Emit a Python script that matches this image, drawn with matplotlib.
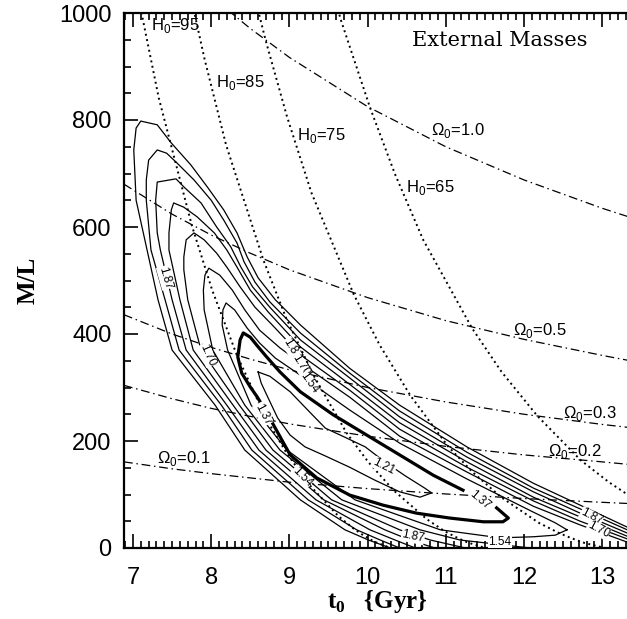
import matplotlib
matplotlib.use("Agg")
import matplotlib.pyplot as plt
from matplotlib.ticker import MultipleLocator

# ---------------- data (t0 [Gyr], M/L) ----------------
# Omega_0 = const curves (dash-dot)
om_t = [6.885, 7.5, 8.0, 8.5, 9.0, 10.0, 11.0, 12.0, 13.0, 13.36]
om_10 = [1198, 1100, 1031, 971, 917, 825, 750, 688, 635, 618]
om_05 = [680, 624, 585, 551, 520, 468, 425, 390, 360, 350]
om_03 = [436, 400, 375, 353, 333, 300, 273, 250, 231, 225]
om_02 = [304, 279, 261, 246, 232, 209, 190, 174, 161, 156]
om_01 = [161, 148, 139, 131, 123, 111, 101, 92.5, 85.4, 83]

# H0 = const curves (dotted)
h95_t = [7.08, 7.33, 7.756, 8.015, 8.327, 8.708, 8.954, 9.243, 9.624, 9.823, 9.943, 10.084, 10.293]
h95_ml = [1021, 841, 601, 481, 361, 240, 180, 120, 60, 36, 24, 12, 0]
h85_t = [7.673, 7.915, 8.191, 8.668, 8.958, 9.307, 9.732, 10.007, 10.331, 10.756, 10.978, 11.113, 11.271, 11.504]
h85_ml = [1075, 914, 753, 538, 430, 323, 215, 161, 108, 54, 32, 21.5, 10.8, 0]
h75_t = [8.370, 8.696, 8.970, 9.282, 9.823, 10.152, 10.547, 11.029, 11.341, 11.707, 12.190, 12.441, 12.594, 12.772, 13.037]
h75_ml = [1139, 949, 806, 664, 474, 380, 285, 190, 142, 95, 47, 28.5, 19, 9.5, 0]
h65_t = [9.191, 9.658, 10.034, 10.350, 10.711, 11.335, 11.714, 12.170, 12.726, 13.086, 13.509]
h65_ml = [1233, 987, 822, 699, 576, 411, 329, 247, 164, 123, 82]

# contour paths of the likelihood surface (lower branch -> tip -> upper branch)
c253_t = [10.29, 10.01, 9.71, 9.14, 8.43, 8.05, 7.50, 7.32, 7.18, 7.04, 7.01, 7.04, 7.10,
          7.31, 7.49, 7.74, 7.95, 8.16, 8.33, 8.46, 8.60, 8.82, 9.14, 9.77, 10.41, 11.27, 12.12, 12.72, 13.32]
c253_ml = [0, 15, 34, 90, 183, 267, 370, 464, 557, 650, 744, 785, 798,
           791, 757, 716, 675, 632, 589, 544, 505, 464, 417, 336, 267, 189, 121, 80, 39]
c236_t = [10.41, 10.16, 9.86, 9.24, 8.52, 8.13, 7.59, 7.41, 7.23, 7.17, 7.17, 7.20, 7.31,
          7.43, 7.56, 7.78, 8.00, 8.16, 8.33, 8.42, 8.56, 8.75, 9.14, 9.77, 10.41, 11.27, 12.12, 12.72, 13.32]
c236_ml = [0, 15, 34, 90, 183, 267, 370, 464, 557, 650, 688, 725, 744,
           738, 720, 688, 650, 613, 570, 535, 497, 460, 402, 327, 256, 179, 112, 73, 34]
c220_t = [10.61, 10.35, 10.03, 9.34, 8.61, 8.20, 7.68, 7.50, 7.35, 7.31, 7.29, 7.31, 7.55,
          7.65, 7.87, 8.07, 8.25, 8.38, 8.53, 8.75, 9.14, 9.77, 10.41, 11.27, 12.12, 12.72, 13.32]
c220_ml = [0, 15, 34, 90, 183, 267, 370, 464, 557, 589, 650, 684, 690,
           675, 645, 600, 563, 525, 488, 450, 389, 318, 245, 170, 105, 65, 28]
c203_t = [10.86, 10.54, 10.22, 9.44, 8.70, 8.28, 7.77, 7.60, 7.46, 7.46, 7.49, 7.52,
          7.65, 7.82, 8.04, 8.20, 8.33, 8.50, 8.73, 9.14, 9.77, 10.41, 11.27, 12.12, 12.72, 13.32]
c203_ml = [0, 15, 34, 90, 183, 267, 370, 464, 557, 589, 632, 645,
           637, 619, 589, 557, 525, 482, 441, 376, 306, 234, 161, 95, 58, 22]
c187_t = [11.25, 10.80, 10.41, 9.54, 8.79, 8.36, 7.87, 7.70, 7.65, 7.65, 7.68, 7.78,
          7.91, 8.07, 8.20, 8.37, 8.56, 8.78, 9.14, 9.77, 10.41, 11.27, 12.12, 12.72, 13.32]
c187_ml = [0, 15, 34, 90, 183, 267, 370, 464, 520, 544, 576, 589,
           576, 551, 525, 488, 450, 417, 361, 295, 222, 151, 88, 50, 17]
c170_t = [12.08, 11.18, 10.67, 9.67, 8.88, 8.43, 8.02, 7.91, 7.90, 7.92, 7.97,
          8.11, 8.27, 8.43, 8.62, 8.88, 9.14, 9.77, 10.41, 11.27, 12.12, 12.72, 13.32]
c170_ml = [0, 15, 34, 90, 183, 267, 370, 445, 482, 510, 523,
           510, 482, 445, 407, 374, 346, 282, 209, 142, 78, 43, 11]
c154_t = [12.55, 12.40, 12.12, 11.69, 10.93, 9.84, 8.97, 8.51, 8.21, 8.14, 8.15, 8.19,
          8.30, 8.46, 8.62, 8.82, 9.14, 9.77, 10.41, 11.27, 12.12, 12.40, 12.55]
c154_ml = [34, 24, 21, 19, 34, 90, 183, 267, 370, 417, 445, 458,
           445, 411, 383, 355, 323, 258, 196, 129, 67, 47, 34]
c137_t = [11.65, 11.80, 11.73, 11.48, 11.05, 10.63, 10.20, 9.77, 9.35, 9.01, 8.82, 8.69,
          8.59, 8.50, 8.39, 8.34, 8.37, 8.41, 8.50, 8.60, 8.71, 8.88, 9.14, 9.56, 9.99,
          10.41, 10.84, 11.22]
c137_ml = [75, 56, 49, 49, 56, 65, 80, 99, 131, 174, 224, 258,
           282, 301, 327, 357, 389, 402, 394, 376, 357, 329, 292, 249, 211,
           174, 136, 108]
c121_t = [8.60, 8.75, 9.01, 9.26, 9.46, 9.71, 9.97, 10.22, 10.48, 10.73, 10.82, 10.67,
          10.41, 10.09, 9.77, 9.46, 9.20, 9.01, 8.85, 8.73, 8.64, 8.60]
c121_ml = [329, 321, 292, 254, 224, 207, 189, 161, 135, 112, 103, 95,
           105, 127, 151, 172, 189, 211, 243, 280, 308, 329]

# contour labels: (text, t0, M/L, rotation)
clabels = [("1.87", 7.41, 505, -74), ("1.70", 7.95, 361, -66), ("1.37", 8.66, 250, -62),
           ("1.54", 9.16, 133, -45), ("1.87", 9.03, 372, -58), ("1.70", 9.14, 342, -58),
           ("1.54", 9.25, 308, -55), ("1.21", 10.21, 152, -27), ("1.37", 11.44, 90, -40),
           ("1.87", 10.58, 21, -12), ("1.54", 11.69, 12, 0), ("1.87", 12.86, 58, -28),
           ("1.70", 12.95, 34, -28)]

# ---------------- figure ----------------
W, H = 627, 619
fig = plt.figure(figsize=(W / 100, H / 100), dpi=100)
ax = fig.add_axes([124 / W, (H - 548) / H, 506 / W, 535 / H])
xmin, xmax = 6.885, 6.885 + 506 / 78.2
ax.set_xlim(xmin, xmax)
ax.set_ylim(0, 1000)

k = "black"
dd = (0, (7, 3, 1.2, 3))
for ml in (om_10, om_05, om_03, om_02, om_01):
    ax.plot(om_t, ml, color=k, lw=0.9, ls=dd)
dot = (0, (1, 1.8))
for t, ml in ((h95_t, h95_ml), (h85_t, h85_ml), (h75_t, h75_ml), (h65_t, h65_ml)):
    ax.plot(t, ml, color=k, lw=1.4, ls=dot)

for t, ml in ((c253_t, c253_ml), (c236_t, c236_ml), (c220_t, c220_ml), (c203_t, c203_ml),
              (c187_t, c187_ml), (c170_t, c170_ml), (c154_t, c154_ml), (c121_t, c121_ml)):
    ax.plot(t, ml, color=k, lw=0.9)
ax.plot(c137_t, c137_ml, color=k, lw=2.3)

for s, x, y, r in clabels:
    ax.text(x, y, s, fontsize=8.5, family="Liberation Sans", rotation=r,
            ha="center", va="center", rotation_mode="anchor",
            bbox=dict(facecolor="white", edgecolor="none", pad=0.2))

lab_kw = dict(fontsize=12, family="Liberation Sans", ha="left", va="center")
ax.text(7.23, 976, r"H$_\mathregular{0}$=95", **lab_kw)
ax.text(8.06, 871, r"H$_\mathregular{0}$=85", **lab_kw)
ax.text(9.10, 771, r"H$_\mathregular{0}$=75", **lab_kw)
ax.text(10.49, 673, r"H$_\mathregular{0}$=65", **lab_kw)
ax.text(10.81, 781, r"Ω$_\mathregular{0}$=1.0", **lab_kw)
ax.text(11.86, 407, r"Ω$_\mathregular{0}$=0.5", **lab_kw)
ax.text(12.50, 252, r"Ω$_\mathregular{0}$=0.3", **lab_kw)
ax.text(12.31, 181, r"Ω$_\mathregular{0}$=0.2", **lab_kw)
ax.text(7.31, 168, r"Ω$_\mathregular{0}$=0.1", **lab_kw)
ax.text(11.69, 948, "External Masses", fontsize=15, family="DejaVu Serif",
        ha="center", va="center")

# axes styling (IDL look)
for sp in ("left", "bottom", "top"):
    ax.spines[sp].set_linewidth(1.6)
ax.spines["right"].set_visible(False)
ax.xaxis.set_major_locator(MultipleLocator(1))
ax.xaxis.set_minor_locator(MultipleLocator(0.1))
ax.yaxis.set_major_locator(MultipleLocator(200))
ax.yaxis.set_minor_locator(MultipleLocator(50))
ax.tick_params(which="both", direction="in", top=True, right=False, width=1.2)
ax.tick_params(which="major", length=10)
ax.tick_params(which="minor", length=5)
ax.tick_params(axis="y", labelsize=17, pad=9)
ax.tick_params(axis="x", labelsize=17, pad=14)
for lb in ax.get_xticklabels() + ax.get_yticklabels():
    lb.set_family("Liberation Sans")
ax.set_xticks([7, 8, 9, 10, 11, 12, 13])
ax.set_ylabel("M/L", fontsize=18, family="Liberation Serif", fontweight="bold", labelpad=14)
ax.set_xlabel(r"t$_\mathregular{0}$   {Gyr}", fontsize=18, family="Liberation Serif",
              fontweight="bold", labelpad=-1)

fig.savefig("out.png", dpi=100)
